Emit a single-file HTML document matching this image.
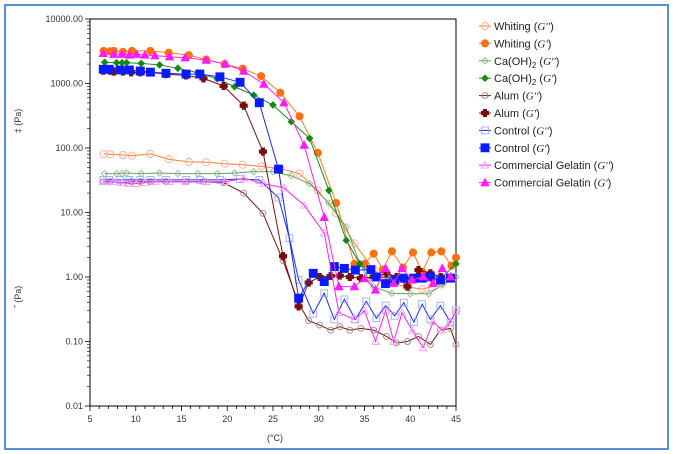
<!DOCTYPE html>
<html><head><meta charset="utf-8"><style>
body{margin:0;background:#fff;}
svg{display:block;font-family:"Liberation Sans",sans-serif;}
</style></head><body>
<svg id="chart" width="673" height="454" viewBox="0 0 673 454" xmlns="http://www.w3.org/2000/svg">
<rect x="5" y="5" width="663" height="444" fill="#fff" stroke="#5b8fd4" stroke-width="2"/>
<rect x="90" y="19" width="366" height="387" fill="none" stroke="#000" stroke-width="1"/>
<g id="axes"></g><g id="series"></g><g id="legend"></g>
<text transform="translate(21,121) rotate(-90)" font-size="9" text-anchor="middle" fill="#333">‡ (Pa)</text>
<text transform="translate(21,297) rotate(-90)" font-size="9" text-anchor="middle" fill="#333">˝ (Pa)</text>
<text x="275" y="441" font-size="9" text-anchor="middle" fill="#333">(°C)</text>
</svg>
<script>
const xTicks=[5,10,15,20,25,30,35,40,45];
const yTicks=[0.01,0.1,1,10,100,1000,10000];
const yTickLabels=["0.01","0.10","1.00","10.00","100.00","1000.00","10000.00"];
const seriesNames=["Whiting (G'')","Whiting (G')","Ca(OH)2 (G'')","Ca(OH)2 (G')","Alum (G'')","Alum (G')","Control (G'')","Control (G')","Commercial Gelatin (G'')","Commercial Gelatin (G')"];

const whitingGppT=[6.5,7.2,8.6,9.6,11.6,13.6,15.8,17.7,19.7,21.7,23.7,25.8,27.9,29.9,31.9,33.9,36,38,39.7,41.3,42.3,43.4,44.5];
const whitingGppV=[81,80,78,76,81,67,61,60,57,55,52,48,40,22,9.7,3.3,1.3,0.8,0.7,0.65,0.7,0.8,0.95];
const whitingGpT=[6.5,7.2,7.6,8.6,9.6,11.6,13.6,15.8,17.7,19.7,21.7,23.7,25.8,27.9,29.9,31.9,33.9,35,36,37,38,39.2,40.3,41.3,42.3,43.4,44.5,45];
const whitingGpV=[3200,3150,3200,3100,3200,3200,3000,2750,2350,2000,1700,1300,720,310,84,14,1.6,1.6,2.3,1.3,2.5,1.4,2.4,1.2,2.4,2.5,1.5,2.0];
const caGppT=[6.6,7.9,8.5,9,10.6,12.6,14.6,16.8,18.9,20.8,22.9,25,27,29,31.1,33,34.5,36,38,40,42,43.5,45];
const caGppV=[40,40,40,41,40,41,40,40,40,41,43,43,37,28,14,6,1.6,0.7,0.56,0.55,0.55,0.75,1.0];
const caGpT=[6.6,7.9,8.5,9,10.6,12.6,14.6,16.8,18.9,20.8,22.9,25,27,29,31.1,33,34.5,36,38,40,42,43.5,45];
const caGpV=[2130,2100,2100,2100,2050,1940,1720,1470,1190,890,660,464,256,141,22,3.7,1.6,1.0,0.96,0.95,1.0,1.0,1.6];
const alumGppT=[6.45,7.2,8.6,9.5,10.5,11.6,13.3,15.5,17.4,19.6,21.8,23.9,26.1,27.8,28.9,30.1,31.3,32.3,33.4,34.6,36,37.4,38.5,39.7,40.9,42.2,43.3,44.4,45];
const alumGppV=[30,30,29,30,30,30,30,30,30,29,20,9.7,1.8,0.39,0.21,0.18,0.15,0.17,0.15,0.16,0.15,0.12,0.095,0.1,0.12,0.09,0.15,0.16,0.09];
const alumGpT=[6.45,7.2,7.6,8.6,9.5,10.5,11.6,13.3,15.5,17.4,19.6,21.8,23.9,26.1,27.8,28.9,30.1,31.3,32.3,33.4,34.6,36,37.4,38.5,39.7,40.9,42.2,43.3];
const alumGpV=[1580,1580,1530,1530,1490,1490,1490,1400,1330,1200,915,453,88,2.1,0.35,0.82,1.0,1.04,1.05,1.0,0.96,1.0,1.14,1.0,0.71,1.28,1.14,1.0];
const ctrlGppT=[6.45,7.1,8.3,9.3,10.5,11.6,13.3,15.5,17,19.2,21.4,23.5,25.6,26.8,27.8,29.4,30.6,31.7,32.8,34,35.2,36.3,37.3,38.3,39.3,40.4,41.3,42.2,43.3,44.4,45];
const ctrlGppV=[32,32,32,32,32,32,32,32,32,32,33,32,17,4,0.9,0.27,0.56,0.22,0.45,0.22,0.42,0.23,0.36,0.25,0.4,0.2,0.38,0.22,0.36,0.2,0.3];
const ctrlGpT=[6.45,7.1,8.3,9.3,10.5,11.6,13.3,15.5,17,19.2,21.4,23.5,25.6,27.8,29.4,30.6,31.7,32.8,34,35.7,36.3,37.3,38.3,39.3,40.4,41.3,42.2,43.3,44.4];
const ctrlGpV=[1660,1660,1620,1620,1560,1500,1440,1400,1400,1270,1045,504,47,0.47,1.14,0.85,1.45,1.36,1.28,1.3,1.0,0.79,0.9,0.96,0.96,0.96,1.0,0.9,0.96];
const gelGppT=[6.45,7.6,8.5,9.3,10.1,11,12.1,13.7,15.4,17.7,19.8,21.8,24,26.2,28.4,30.6,32.2,33.9,35,36.2,37.3,38.2,39.1,40.2,41.4,42.5,43.5,44.4,45];
const gelGppV=[30,30,29,28,28,29,30,30,30,30,30,34,28,24,13,4.8,0.28,0.22,0.3,0.1,0.3,0.1,0.28,0.15,0.08,0.2,0.15,0.2,0.3];
const gelGpT=[6.45,7.6,8.5,9.3,10.1,11,12.1,13.7,15.4,17.7,19.8,21.8,24,26.2,28.4,30.6,32.2,33.9,35,36.2,37.3,38.2,39.1,40.2,41.4,42.5,43.5,44.4];
const gelGpV=[2940,2840,2840,2770,2840,2770,2700,2600,2510,2310,2005,1560,980,504,111,8.4,0.71,0.71,0.95,0.63,1.36,0.8,1.36,0.9,1.01,0.8,1.36,1.01];

const NS="http://www.w3.org/2000/svg";
const X0=90,X1=456,Y0=406,Y1=19;
function xs(t){return X0+(t-5)/40*(X1-X0);}
function ys(v){return Y0-(Math.log10(v)+2)/6*(Y0-Y1);}
function mk(tag,attrs,parent){const e=document.createElementNS(NS,tag);for(const k in attrs)e.setAttribute(k,attrs[k]);parent.appendChild(e);return e;}
const axes=document.getElementById('axes');
// x ticks
for(let t=5;t<=45;t++){
  const tk=mk('line',{x1:xs(t),x2:xs(t),y1:Y0,y2:Y0+(t%5===0?5:3),stroke:'#000','stroke-width':0.8},axes);
  
  
}
xTicks.forEach(t=>{
  const l=mk('text',{x:xs(t),y:Y0+16,'font-size':9,'text-anchor':'middle',fill:'#333'},axes);
  l.textContent=t;
  
  
});
// y ticks
yTicks.forEach((v,i)=>{
  const l=mk('text',{x:83,y:ys(v)+3,'font-size':9,'text-anchor':'end',fill:'#333'},axes);
  l.textContent=yTickLabels[i];
  
  
  const tk=mk('line',{x1:X0-5,x2:X0,y1:ys(v),y2:ys(v),stroke:'#000','stroke-width':0.8},axes);
  
  
  if(i<yTicks.length-1){for(let m=2;m<10;m++){
    const mt=mk('line',{x1:X0-3,x2:X0,y1:ys(v*m),y2:ys(v*m),stroke:'#000','stroke-width':0.6},axes);
    
    
  }}
});
function marker(shape,x,y,fill,stroke,g,s){
  let e;
  if(shape==='circle')e=mk('circle',{cx:x,cy:y,r:s},g);
  else if(shape==='square')e=mk('rect',{x:x-s,y:y-s,width:2*s,height:2*s},g);
  else if(shape==='diamond')e=mk('polygon',{points:`${x},${y-s} ${x+s},${y} ${x},${y+s} ${x-s},${y}`},g);
  else if(shape==='triangle')e=mk('polygon',{points:`${x},${y-s} ${x+s},${y+s*0.8} ${x-s},${y+s*0.8}`},g);
  else if(shape==='cross'){const a=s*0.45;e=mk('polygon',{points:`${x-a},${y-s} ${x+a},${y-s} ${x+a},${y-a} ${x+s},${y-a} ${x+s},${y+a} ${x+a},${y+a} ${x+a},${y+s} ${x-a},${y+s} ${x-a},${y+a} ${x-s},${y+a} ${x-s},${y-a} ${x-a},${y-a}`},g);}
  e.setAttribute('fill',fill);e.setAttribute('stroke',stroke);e.setAttribute('stroke-width',0.9);
  return e;
}
const defs=[
 {T:whitingGppT,V:whitingGppV,line:'#ff7f1a',shape:'circle',fill:'none',stroke:'#f5a9a0',s:3.6,name:'whiting-g2'},
 {T:whitingGpT,V:whitingGpV,line:'#ff7f1a',shape:'circle',fill:'#ff7010',stroke:'#ff7010',s:3.6,name:'whiting-g1'},
 {T:caGppT,V:caGppV,line:'#5aa35a',shape:'diamond',fill:'none',stroke:'#9ab89a',s:3.2,name:'caoh2-g2'},
 {T:caGpT,V:caGpV,line:'#1a8a1a',shape:'diamond',fill:'#138a13',stroke:'#138a13',s:3.2,name:'caoh2-g1'},
 {T:alumGppT,V:alumGppV,line:'#7a1010',shape:'circle',fill:'none',stroke:'#a08888',s:3,name:'alum-g2'},
 {T:alumGpT,V:alumGpV,line:'#7a1010',shape:'cross',fill:'#7a0c0c',stroke:'#7a0c0c',s:3.6,name:'alum-g1'},
 {T:ctrlGppT,V:ctrlGppV,line:'#1a2aff',shape:'square',fill:'none',stroke:'#a0a8ff',s:3.4,name:'control-g2'},
 {T:ctrlGpT,V:ctrlGpV,line:'#1a2aff',shape:'square',fill:'#0a1aff',stroke:'#0a1aff',s:4,name:'control-g1'},
 {T:gelGppT,V:gelGppV,line:'#ff22ff',shape:'triangle',fill:'none',stroke:'#ff99ff',s:3.6,name:'gelatin-g2'},
 {T:gelGpT,V:gelGpV,line:'#ff22ff',shape:'triangle',fill:'#ff1aff',stroke:'#ff1aff',s:4,name:'gelatin-g1'}
];
const sg=document.getElementById('series');
defs.forEach(d=>{
  const g=mk('g',{},sg);
  
  
  const pts=d.T.map((t,i)=>xs(t)+','+ys(d.V[i])).join(' ');
  const pl=mk('polyline',{points:pts,fill:'none',stroke:d.line,'stroke-width':1},g);
  
  
  d.T.forEach((t,i)=>{
    const m=marker(d.shape,xs(t),ys(d.V[i]),d.fill,d.stroke,g,d.s);
    
    
  });
});
// legend
const lg=document.getElementById('legend');


defs.forEach((d,i)=>{
  const y=26+i*17.4;
  const g=mk('g',{},lg);
  
  
  mk('line',{x1:479,x2:491,y1:y,y2:y,stroke:d.line,'stroke-width':1},g);
  marker(d.shape,485,y,d.fill,d.stroke,g,d.s);
  const nm=seriesNames[i];
  const base=nm.replace(/ \(G.*$/,'').replace('Ca(OH)2','Ca(OH)');
  const tx=mk('text',{x:494,y:y+4,'font-size':11,fill:'#222'},g);
  if(nm.startsWith('Ca(OH)2')){
    tx.appendChild(document.createTextNode('Ca(OH)'));
    const sub=mk('tspan',{'font-size':8,dy:3},tx);sub.textContent='2';
    const rest=mk('tspan',{dy:-3},tx);rest.textContent=' (';
  } else tx.appendChild(document.createTextNode(base+' ('));
  const it=mk('tspan',{'font-style':'italic','font-family':'Liberation Serif, serif'},tx);
  it.textContent=nm.includes("G''")?"G''":"G'";
  tx.appendChild(document.createTextNode(')'));
});
</script>
</body></html>
